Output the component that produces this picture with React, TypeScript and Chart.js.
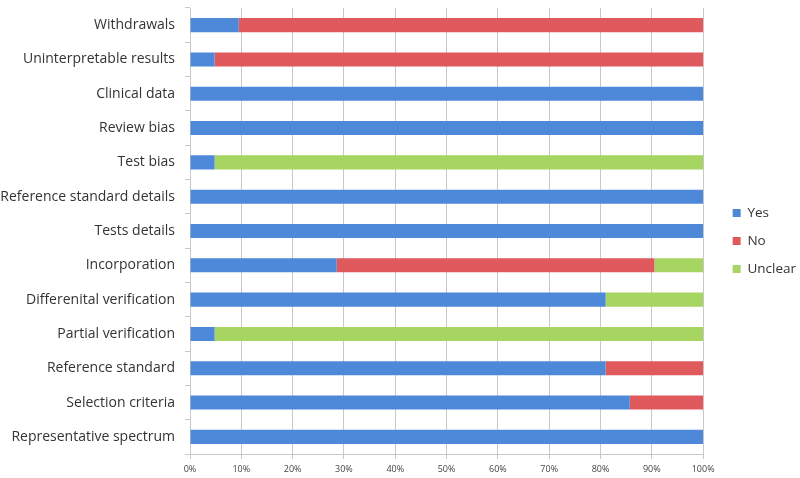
import React, { useEffect, useRef } from "react";
import { Chart, registerables } from "chart.js";

Chart.register(...registerables);

const categories = [
  "Withdrawals",
  "Uninterpretable results",
  "Clinical data",
  "Review bias",
  "Test bias",
  "Reference standard details",
  "Tests details",
  "Incorporation",
  "Differenital verification",
  "Partial verification",
  "Reference standard",
  "Selection criteria",
  "Representative spectrum",
];

const yesValues = [9.5, 4.8, 100, 100, 4.8, 100, 100, 28.6, 81.0, 4.8, 81.0, 85.7, 100];
const noValues = [90.5, 95.2, 0, 0, 0, 0, 0, 61.9, 0, 0, 19.0, 14.3, 0];
const unclearValues = [0, 0, 0, 0, 95.2, 0, 0, 9.5, 19.0, 95.2, 0, 0, 0];

const seriesNames = ["Yes", "No", "Unclear"];
const seriesColors = ["#4E89D9", "#E0595C", "#A6D562"];

const FONT = "'Open Sans', sans-serif";
const LEGEND_SHIFT_X = 15;
const LEGEND_SHIFT_Y = -2;

const shiftLegend = {
  id: "shiftLegend",
  afterLayout(chart: any) {
    const lg = chart.legend;
    if (lg) {
      lg.left += LEGEND_SHIFT_X;
      lg.right += LEGEND_SHIFT_X;
      lg.top += LEGEND_SHIFT_Y;
      lg.bottom += LEGEND_SHIFT_Y;
    }
  },
};

export default function App() {
  const ref = useRef<HTMLCanvasElement | null>(null);

  useEffect(() => {
    if (!ref.current) return;
    const values = [yesValues, noValues, unclearValues];
    const chart = new Chart(ref.current, {
      type: "bar",
      data: {
        labels: categories,
        datasets: seriesNames.map((name, i) => ({
          label: name,
          data: values[i],
          backgroundColor: seriesColors[i],
          borderWidth: 0,
          barPercentage: 0.41,
          categoryPercentage: 1,
        })),
      },
      plugins: [shiftLegend],
      options: {
        indexAxis: "y",
        animation: false,
        responsive: true,
        maintainAspectRatio: false,
        layout: { padding: { top: 8, right: 9, bottom: 0, left: 0 } },
        plugins: {
          tooltip: { enabled: false },
          legend: {
            position: "right",
            labels: {
              boxWidth: 8,
              boxHeight: 8,
              padding: 14.5,
              color: "#333",
              font: { family: FONT, size: 13.5 },
            },
          },
        },
        scales: {
          x: {
            stacked: true,
            min: 0,
            max: 100,
            afterFit: (s: any) => {
              s.height = 24;
              s.paddingLeft = 0;
              s.paddingRight = 0;
            },
            ticks: {
              stepSize: 10,
              callback: (v: any) => v + "%",
              color: "#444",
              font: { family: FONT, size: 9 },
              padding: 5,
            },
            grid: { color: "#C8C8C8", tickLength: 5 },
            border: { color: "#C8C8C8" },
          },
          y: {
            stacked: true,
            afterFit: (s: any) => {
              s.width = 190;
              s.paddingTop = 0;
              s.paddingBottom = 0;
            },
            ticks: {
              color: "#333",
              font: { family: FONT, size: 14 },
              padding: 10,
            },
            grid: {
              offset: true,
              drawOnChartArea: false,
              color: "#C8C8C8",
              tickLength: 5,
            },
            border: { color: "#C8C8C8" },
          },
        },
      },
    });
    return () => chart.destroy();
  }, []);

  return (
    <div style={{ position: "absolute", left: 0, top: 0, width: 800, height: 478, background: "#fff" }}>
      <canvas ref={ref} />
    </div>
  );
}
